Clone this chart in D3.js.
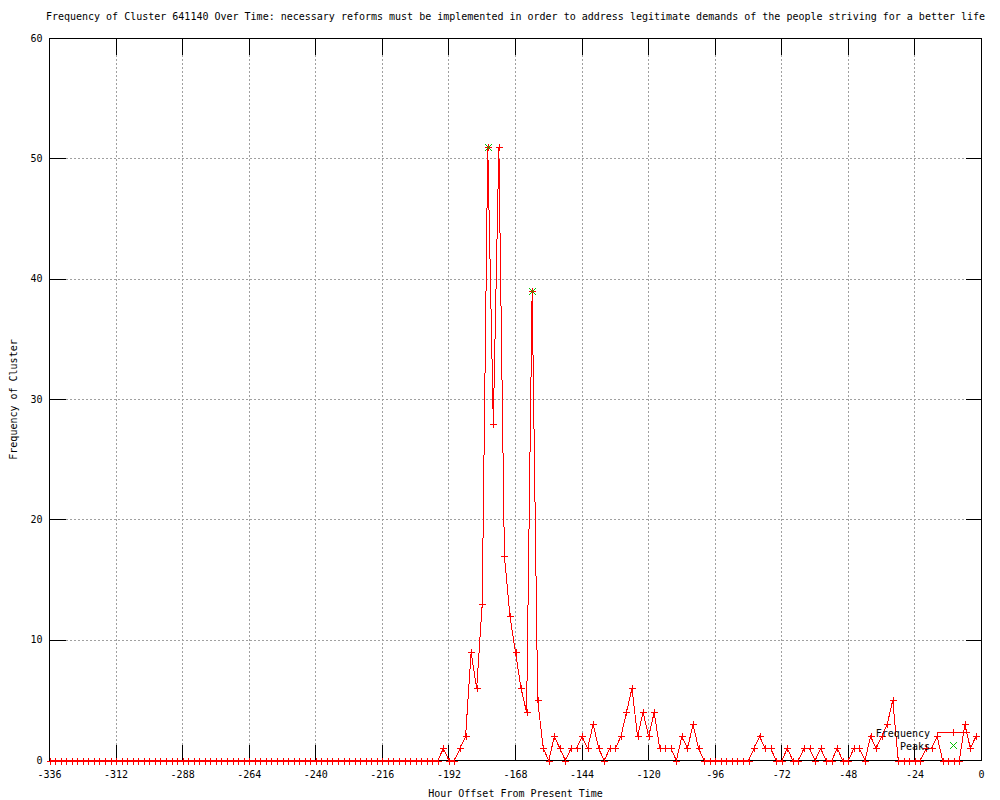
<!DOCTYPE html>
<html>
<head>
<meta charset="utf-8">
<script src="https://cdn.jsdelivr.net/npm/d3@7"></script>
<style>
  body { margin: 0; background: #fff; }
  text { font-family: "DejaVu Sans Mono", monospace; font-size: 10px; fill: #000; }
</style>
</head>
<body>
<div id="chart"></div>
<script>
const width = 1000;
const height = 800;
const margin = { top: 38.5, right: 18.5, bottom: 39.5, left: 49.5 };

const titleText = "Frequency of Cluster 641140 Over Time: necessary reforms must be implemented in order to address legitimate demands of the people striving for a better life";

// hourly offsets, sampled every 2 hours
const hours = d3.range(-336, 0, 2);
const frequency = [
    0, 0, 0, 0, 0, 0, 0, 0, 0, 0, 0, 0, 0, 0, 0, 0, 0, 0, 0, 0,
    0, 0, 0, 0, 0, 0, 0, 0, 0, 0, 0, 0, 0, 0, 0, 0, 0, 0, 0, 0,
    0, 0, 0, 0, 0, 0, 0, 0, 0, 0, 0, 0, 0, 0, 0, 0, 0, 0, 0, 0,
    0, 0, 0, 0, 0, 0, 0, 0, 0, 0, 0,
    1, 0, 0, 1, 2, 9, 6, 13, 51, 28, 51, 17, 12, 9, 6, 4, 39, 5, 1, 0,
    2, 1, 0, 1, 1, 2, 1, 3, 1, 0, 1, 1, 2, 4, 6, 2, 4, 2, 4, 1,
    1, 1, 0, 2, 1, 3, 1, 0, 0, 0, 0, 0, 0, 0, 0, 0, 1, 2, 1, 1,
    0, 0, 1, 0, 0, 1, 1, 0, 1, 0, 0, 1, 0, 0, 1, 1, 0, 2, 1, 2,
    3, 5, 0, 0, 0, 0, 0, 1, 1, 2, 0, 0, 0, 0, 3, 1, 2
];
const peakHours = [-178, -162];
const peakValues = [51, 39];

const xTicks = d3.range(-336, 1, 24);
const yTicks = [0, 10, 20, 30, 40, 50, 60];

const data = hours.map((h, i) => ({ hour: h, value: frequency[i] }));
const peaks = peakHours.map((h, i) => ({ hour: h, value: peakValues[i] }));

const svg = d3
    .select("#chart")
    .append("svg")
    .attr("width", width)
    .attr("height", height);

const x = d3
    .scaleLinear()
    .domain([-336, 0])
    .range([margin.left, width - margin.right]);

const y = d3
    .scaleLinear()
    .domain([0, 60])
    .range([height - margin.bottom, margin.top]);

// ===== GRID =====
const grid = svg.append("g")
    .attr("stroke", "#a0a0a0")
    .attr("stroke-dasharray", "2,2")
    .attr("shape-rendering", "crispEdges");

grid.selectAll(".gx")
    .data(xTicks.slice(1, -1))
    .enter()
    .append("line")
    .attr("x1", (d) => x(d))
    .attr("x2", (d) => x(d))
    .attr("y1", y(60))
    .attr("y2", y(0));

grid.selectAll(".gy")
    .data(yTicks.slice(1, -1))
    .enter()
    .append("line")
    .attr("x1", x(-336))
    .attr("x2", x(0))
    .attr("y1", (d) => y(d))
    .attr("y2", (d) => y(d));

// ===== AXES (ticks mirrored on all sides) =====
const fmt = (d) => String(d);

const xAxis = svg.append("g")
    .attr("transform", `translate(0,${y(0)})`)
    .call(d3.axisBottom(x).tickValues(xTicks).tickFormat(fmt).tickSize(-16).tickPadding(10).offset(0));

const xAxisTop = svg.append("g")
    .attr("transform", `translate(0,${y(60)})`)
    .call(d3.axisTop(x).tickValues(xTicks).tickFormat("").tickSize(-16).offset(0));

const yAxis = svg.append("g")
    .attr("transform", `translate(${x(-336)},0)`)
    .call(d3.axisLeft(y).tickValues(yTicks).tickFormat(fmt).tickSize(-16).tickPadding(7).offset(0));

const yAxisRight = svg.append("g")
    .attr("transform", `translate(${x(0)},0)`)
    .call(d3.axisRight(y).tickValues(yTicks).tickFormat("").tickSize(-16).offset(0));

[xAxis, xAxisTop, yAxis, yAxisRight].forEach((g) => {
    g.select(".domain").remove();
    g.attr("font-family", null).attr("font-size", null);
    g.selectAll("line").attr("stroke", "#000").attr("shape-rendering", "crispEdges");
    g.selectAll("text").attr("fill", "#000");
});

// border
svg.append("rect")
    .attr("x", x(-336))
    .attr("y", y(60))
    .attr("width", x(0) - x(-336))
    .attr("height", y(0) - y(60))
    .attr("fill", "none")
    .attr("stroke", "#000")
    .attr("shape-rendering", "crispEdges");

// ===== DATA LINE =====
const line = d3.line()
    .x((d) => x(d.hour))
    .y((d) => y(d.value));

svg.append("path")
    .datum(data)
    .attr("d", line)
    .attr("fill", "none")
    .attr("stroke", "#ff0000")
    .attr("stroke-width", 1)
    .attr("shape-rendering", "crispEdges");

const plus = "M-3.5,0H3.5M0,-3.5V3.5";
const cross = "M-3.5,-3.5L3.5,3.5M-3.5,3.5L3.5,-3.5";

svg.selectAll(".pt")
    .data(data)
    .enter()
    .append("path")
    .attr("class", "pt")
    .attr("transform", (d) => `translate(${Math.round(x(d.hour)) + 0.5},${Math.round(y(d.value)) + 0.5})`)
    .attr("d", plus)
    .attr("stroke", "#ff0000")
    .attr("fill", "none")
    .attr("shape-rendering", "crispEdges");

svg.selectAll(".peak")
    .data(peaks)
    .enter()
    .append("path")
    .attr("class", "peak")
    .attr("transform", (d) => `translate(${Math.round(x(d.hour)) + 0.5},${Math.round(y(d.value)) + 0.5})`)
    .attr("d", cross)
    .attr("stroke", "#00c000")
    .attr("fill", "none");

// ===== LEGEND =====
const key = svg.append("g");
key.append("text")
    .attr("x", 930)
    .attr("y", 736.5)
    .attr("text-anchor", "end")
    .text("Frequency");
key.append("line")
    .attr("x1", 937)
    .attr("x2", 970)
    .attr("y1", 732.5)
    .attr("y2", 732.5)
    .attr("stroke", "#ff0000")
    .attr("shape-rendering", "crispEdges");
key.append("path")
    .attr("transform", "translate(953.5,732.5)")
    .attr("d", plus)
    .attr("stroke", "#ff0000")
    .attr("shape-rendering", "crispEdges");
key.append("text")
    .attr("x", 930)
    .attr("y", 749.5)
    .attr("text-anchor", "end")
    .text("Peaks");
key.append("path")
    .attr("transform", "translate(953.5,745.5)")
    .attr("d", cross)
    .attr("stroke", "#00c000")
    .attr("fill", "none");

// ===== TITLES =====
svg.append("text")
    .attr("x", (x(-336) + x(0)) / 2)
    .attr("y", 20)
    .attr("text-anchor", "middle")
    .text(titleText);

svg.append("text")
    .attr("x", (x(-336) + x(0)) / 2)
    .attr("y", 797)
    .attr("text-anchor", "middle")
    .text("Hour Offset From Present Time");

svg.append("text")
    .attr("transform", `translate(17,${(y(0) + y(60)) / 2}) rotate(-90)`)
    .attr("text-anchor", "middle")
    .text("Frequency of Cluster");
</script>
</body>
</html>
